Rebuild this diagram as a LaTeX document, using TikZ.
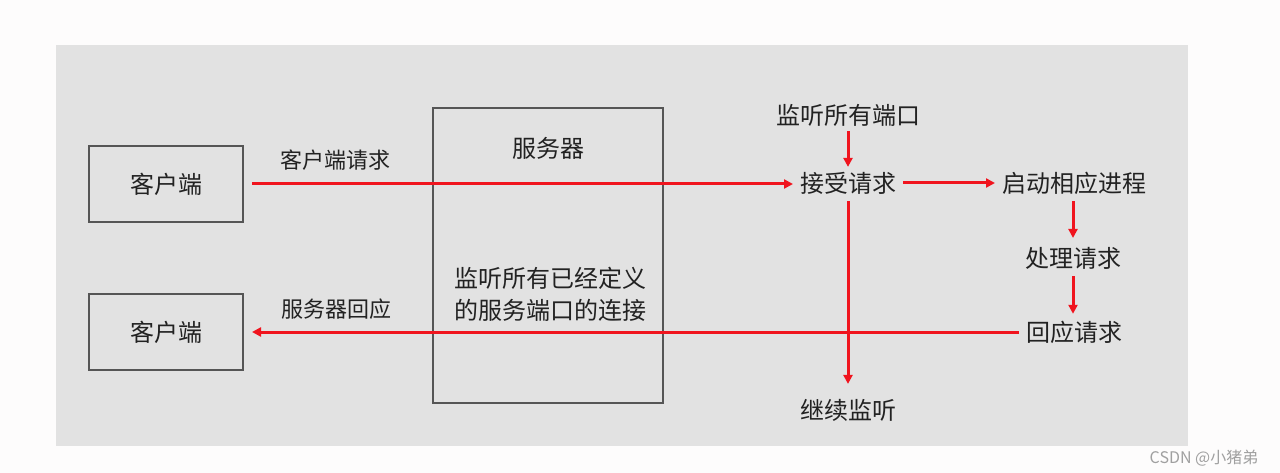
\documentclass[tikz,border=0pt]{standalone}
\usepackage{fontspec}
\setmainfont{Noto Sans CJK SC}
\usetikzlibrary{arrows.meta}
\definecolor{panelgray}{HTML}{E2E2E2}
\definecolor{pagewhite}{HTML}{FDFCFC}
\definecolor{boxline}{HTML}{555555}
\definecolor{txt}{HTML}{222222}
\definecolor{flowred}{HTML}{F0141E}
\definecolor{wmark}{HTML}{A0A0A0}
\tikzset{
  clientbox/.style={draw=boxline, line width=2pt, minimum width=154pt, minimum height=76pt, inner sep=0pt, text=txt, font=\fontsize{24}{28}\selectfont},
  serverbox/.style={draw=boxline, line width=2pt, minimum width=230pt, minimum height=295pt, inner sep=0pt},
  word/.style={text=txt, font=\fontsize{24}{28}\selectfont, inner xsep=7pt, inner ysep=5pt, outer sep=0pt},
  lbl/.style={text=txt, font=\fontsize{22}{26}\selectfont, inner sep=0pt},
  flow/.style={draw=flowred, line width=3pt, -{Triangle[length=9pt,width=9pt]}},
}
\begin{document}
\begin{tikzpicture}[x=1pt,y=-1pt]
\fill[pagewhite] (0,0) rectangle (1280,473);
\useasboundingbox (0,0) rectangle (1280,473);
\fill[panelgray] (56,45) rectangle (1188,446);

% boxes
\node[clientbox] (c1) at (166,184) {客户端};
\node[clientbox] (c2) at (166,332) {客户端};
\node[serverbox] (srv) at (548,255.5) {};
\node[word] (srvtitle) at (548,148) {服务器};
\node[word, align=center, inner sep=0pt, font=\fontsize{24}{32}\selectfont] (srvdesc) at (550,294) {监听所有已经定义\\的服务端口的连接};

% labels on arrows
\node[lbl] (reqlbl) at (335,160) {客户端请求};
\node[lbl] (resplbl) at (336,309) {服务器回应};

% right-hand flow
\node[word] (listen) at (848,115) {监听所有端口};
\node[word] (accept) at (848,183) {接受请求};
\node[word] (start) at (1074,183) {启动相应进程};
\node[word] (proc) at (1073,258) {处理请求};
\node[word] (resp) at (1074,332) {回应请求};
\node[word] (cont) at (848,410) {继续监听};

% connectors
\draw[flow, shorten <=8pt] (c1.east) -- (accept.west |- c1.east);
\draw[flow] (listen.south) -- (accept.north);
\draw[flow] (accept.east) -- (start.west);
\draw[flow, shorten <=2pt, shorten >=4pt] (start.south -| proc.north) -- (proc.north);
\draw[flow, shorten <=2pt, shorten >=2pt] (proc.south) -- (proc.south |- resp.north);
\draw[flow, shorten <=2pt, shorten >=10pt] (accept.south) -- (cont.north);
\draw[flow, shorten >=8pt] (resp.west) -- (c2.east);

% watermark
\node[text=wmark, font=\fontsize{16}{18}\selectfont, inner sep=0pt] (wm) at (1204,458) {CSDN @小猪弟};
\end{tikzpicture}
\end{document}
